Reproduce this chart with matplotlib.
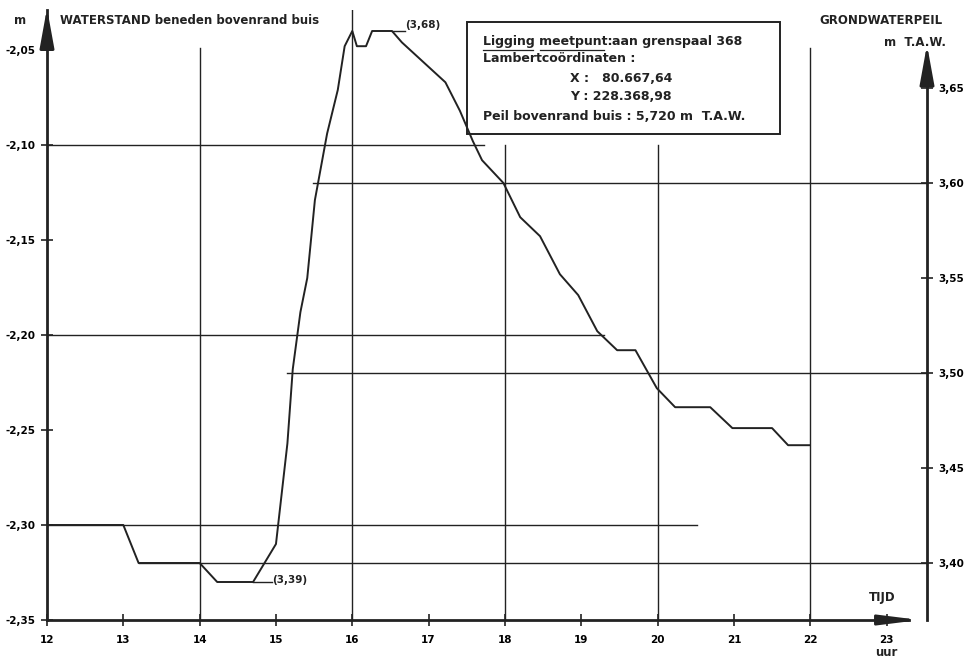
import matplotlib
matplotlib.use("Agg")
import matplotlib.pyplot as plt
from matplotlib.lines import Line2D
from matplotlib.patches import Rectangle

# tijd (uur) en waterstand beneden bovenrand buis (m)
tijd = [12.0, 13.0, 13.2, 14.0, 14.23, 14.7, 15.0, 15.15, 15.22, 15.32, 15.41,
        15.51, 15.67, 15.81, 15.9, 16.0, 16.06, 16.18, 16.26, 16.52, 16.65,
        17.22, 17.41, 17.58, 17.7, 17.98, 18.2, 18.46, 18.72, 18.96, 19.21,
        19.47, 19.71, 19.99, 20.23, 20.69, 20.98, 21.5, 21.71, 21.99]
waterstand = [-2.30, -2.30, -2.32, -2.32, -2.33, -2.33, -2.31, -2.257, -2.218,
              -2.188, -2.17, -2.129, -2.094, -2.071, -2.048, -2.04, -2.048,
              -2.048, -2.04, -2.04, -2.046, -2.067, -2.082, -2.098, -2.108,
              -2.12, -2.138, -2.148, -2.168, -2.179, -2.198, -2.208, -2.208,
              -2.228, -2.238, -2.238, -2.249, -2.249, -2.258, -2.258]

peil_buis = 5.720  # m T.A.W.

x_ticks = [12, 13, 14, 15, 16, 17, 18, 19, 20, 21, 22, 23]
y_ticks_links = [-2.35, -2.30, -2.25, -2.20, -2.15, -2.10, -2.05]
y_ticks_rechts = [3.40, 3.45, 3.50, 3.55, 3.60, 3.65]

# hulplijnen: (waarde, van, tot)
hlijnen_links = [(-2.10, 12, 17.72), (-2.20, 12, 19.3), (-2.30, 12, 20.52)]
hlijnen_rechts = [(3.60, 15.49, 23.53), (3.50, 15.15, 23.53), (3.40, 13.2, 23.53)]
vlijnen = [(14, -2.049), (16, -2.029), (18, -2.10), (20, -2.10), (22, -2.049)]

W, H = 965, 661
fig = plt.figure(figsize=(W / 100, H / 100), dpi=100)
fig.patch.set_facecolor("white")

def fx(px):
    return px / W

def fy(py):
    return 1 - py / H

ax = fig.add_axes([fx(47), fy(620), fx(927) - fx(47), (620 - 10) / H])
ymin, ymax = -2.35, -2.35 + 610 / 1900
ax.set_xlim(12, 23.53)
ax.set_ylim(ymin, ymax)

kleur = "#222222"
ax.plot(tijd, waterstand, color=kleur, lw=1.4, zorder=3)

for y, a, b in hlijnen_links:
    ax.plot([a, b], [y, y], color=kleur, lw=1.0)
for y, a, b in hlijnen_rechts:
    ax.plot([a, b], [y - peil_buis, y - peil_buis], color=kleur, lw=1.0)
for x, top in vlijnen:
    ax.plot([x, x], [ymin, top], color=kleur, lw=1.0)

# assen
for s in ["top", "right"]:
    ax.spines[s].set_visible(False)
ax.spines["left"].set_linewidth(2)
ax.spines["bottom"].set_linewidth(2)
ax.spines["left"].set_color(kleur)
ax.spines["bottom"].set_color(kleur)
ax.spines["bottom"].set_bounds(12, 23.3)

pijl = dict(arrowstyle="-|>,head_length=2.2,head_width=0.4", color=kleur,
            lw=2, mutation_scale=11, shrinkA=0, shrinkB=0)
pijl_x = dict(arrowstyle="-|>,head_length=2.4,head_width=0.3", color=kleur,
              lw=2, mutation_scale=10, shrinkA=0, shrinkB=0)
ax.annotate("", xy=(0, 1.003), xytext=(0, 0.95), xycoords="axes fraction",
            arrowprops=pijl, annotation_clip=False)
ax.annotate("", xy=(1, 0.943), xytext=(1, 0.88), xycoords="axes fraction",
            arrowprops=pijl, annotation_clip=False)
ax.annotate("", xy=(0.992, 0), xytext=(0.95, 0), xycoords="axes fraction",
            arrowprops=pijl_x, annotation_clip=False)

ax.set_xticks(x_ticks)
ax.set_xticklabels([str(v) for v in x_ticks], fontsize=7.5, fontweight="bold")
ax.set_yticks(y_ticks_links)
ax.set_yticklabels([f"{v:.2f}".replace(".", ",") for v in y_ticks_links],
                   fontsize=7.5, fontweight="bold")
ax.tick_params(direction="inout", length=8, width=1.2, color=kleur, pad=4)
ax.tick_params(axis="x", pad=7)

ax2 = ax.twinx()
ax2.set_ylim(ymin + peil_buis, ymax + peil_buis)
for s in ["top", "left", "bottom"]:
    ax2.spines[s].set_visible(False)
ax2.spines["right"].set_linewidth(2)
ax2.spines["right"].set_color(kleur)
ax2.spines["right"].set_bounds(ymin + peil_buis, 3.66)
ax2.set_yticks(y_ticks_rechts)
ax2.set_yticklabels([f"{v:.2f}".replace(".", ",") for v in y_ticks_rechts],
                    fontsize=7.5, fontweight="bold")
ax2.tick_params(direction="inout", length=8, width=1.2, color=kleur, pad=4)

# extreme waarden
i_max_eind = len(waterstand) - 1 - waterstand[::-1].index(max(waterstand))
i_min_eind = len(waterstand) - 1 - waterstand[::-1].index(min(waterstand))
t1, v1 = tijd[i_max_eind], waterstand[i_max_eind]
ax.plot([t1, t1 + 0.17], [v1, v1], color=kleur, lw=1.0)
ax.text(t1 + 0.17, v1 + 0.003, f"({v1 + peil_buis:.2f})".replace(".", ","),
        fontsize=7.5, fontweight="bold", ha="left", va="center", color=kleur)
t2, v2 = tijd[i_min_eind], waterstand[i_min_eind]
ax.plot([t2, t2 + 0.25], [v2, v2], color=kleur, lw=1.0)
ax.text(t2 + 0.25, v2 + 0.001, f"({v2 + peil_buis:.2f})".replace(".", ","),
        fontsize=7.5, fontweight="bold", ha="left", va="center", color=kleur)

tekst = dict(fontsize=8.5, fontweight="bold", color=kleur)
kader = dict(fontsize=9, fontweight="bold", color=kleur)
fig.text(fx(20), fy(20), "m", ha="center", va="center", **tekst)
fig.text(fx(60), fy(20), "WATERSTAND beneden bovenrand buis", ha="left", va="center", **tekst)
fig.text(fx(943), fy(20), "GRONDWATERPEIL", ha="right", va="center", **tekst)
fig.text(fx(946), fy(42), "m  T.A.W.", ha="right", va="center", **tekst)
fig.text(fx(882), fy(598), "TIJD", ha="center", va="center", **tekst)
fig.text(fx(886), fy(652), "uur", ha="center", va="center", **tekst)

# kader met gegevens meetpunt
fig.add_artist(Rectangle((fx(467), fy(134)), fx(780) - fx(467), (134 - 22) / H,
                         fill=False, lw=1.4, ec=kleur))
fig.text(fx(483), fy(41), "Ligging meetpunt:", ha="left", va="center", **kader)
fig.add_artist(Line2D([fx(483), fx(533)], [fy(50), fy(50)], lw=0.9, color=kleur))
fig.add_artist(Line2D([fx(540), fx(604)], [fy(50), fy(50)], lw=0.9, color=kleur))
fig.text(fx(612), fy(41), "aan grenspaal 368", ha="left", va="center", **kader)
fig.text(fx(483), fy(59), "Lambertcoördinaten :", ha="left", va="center", **kader)
fig.text(fx(570), fy(78), "X :   80.667,64", ha="left", va="center", **kader)
fig.text(fx(570), fy(97), "Y : 228.368,98", ha="left", va="center", **kader)
fig.text(fx(483), fy(116), "Peil bovenrand buis : 5,720 m  T.A.W.", ha="left", va="center", **kader)

fig.savefig("out.png", dpi=100)
